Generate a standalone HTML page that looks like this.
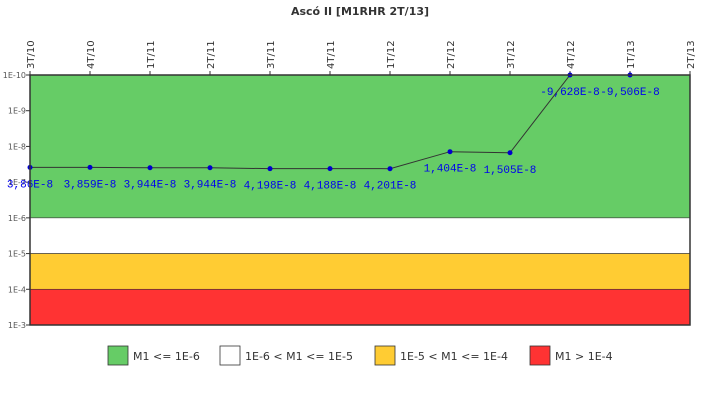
<!DOCTYPE html>
<html><head><meta charset="utf-8"><style>
body{margin:0;background:#fff;width:720px;height:400px;overflow:hidden}
svg text{font-family:"DejaVu Sans","Liberation Sans",sans-serif}
</style></head><body>
<svg width="720" height="400">
<text x="360" y="15" text-anchor="middle" font-size="11" font-weight="bold" fill="#333">Ascó II [M1RHR 2T/13]</text>
<g id="bands"></g><g id="yaxis"></g><g id="xaxis"></g><g id="series"></g>
<rect x="30" y="75" width="660" height="250" fill="none" stroke="#333" stroke-width="1.5"/>
<g id="legend"></g>
</svg>
<script>
const categories=["3T/10","4T/10","1T/11","2T/11","3T/11","4T/11","1T/12","2T/12","3T/12","4T/12","1T/13","2T/13"];
const values=[3.86e-8,3.859e-8,3.944e-8,3.944e-8,4.198e-8,4.188e-8,4.201e-8,1.404e-8,1.505e-8,-9.628e-8,-9.506e-8];
const labels=["3,86E-8","3,859E-8","3,944E-8","3,944E-8","4,198E-8","4,188E-8","4,201E-8","1,404E-8","1,505E-8","-9,628E-8","-9,506E-8"];
const yTicks=[-10,-9,-8,-7,-6,-5,-4,-3];
const bandLimits=[[-10,-6],[-6,-5],[-5,-4],[-4,-3]];
const bandColors=["#66cc66","#ffffff","#ffcc33","#ff3333"];
const legendLabels=["M1 <= 1E-6","1E-6 < M1 <= 1E-5","1E-5 < M1 <= 1E-4","M1 > 1E-4"];
const NS="http://www.w3.org/2000/svg";
const X0=30,X1=690,Y0=75,Y1=325;
function xs(i){return X0+i*(X1-X0)/(categories.length-1);}
function ys(e){return Y0+(e+10)*(Y1-Y0)/7;}
function yv(v){if(v<=1e-10)return Y0;return ys(Math.max(-10,Math.min(-3,Math.log10(v))));}
function mk(p,t,a){const e=document.createElementNS(NS,t);for(const k in a)e.setAttribute(k,a[k]);p.appendChild(e);return e;}
const bands=document.getElementById('bands');
bandLimits.forEach((b,i)=>{const r=mk(bands,'rect',{x:X0,y:ys(b[0]),width:X1-X0,height:ys(b[1])-ys(b[0]),fill:bandColors[i],stroke:'#333','stroke-width':0.6});

});
const ya=document.getElementById('yaxis');
yTicks.forEach(e=>{const y=ys(e);mk(ya,'line',{x1:X0-4,x2:X0,y1:y,y2:y,stroke:'#333'});
const t=mk(ya,'text',{x:X0-4,y:y+3,'text-anchor':'end','font-size':8,fill:'#555'});t.textContent='1E'+e;

});
const xa=document.getElementById('xaxis');
categories.forEach((c,i)=>{const x=xs(i);mk(xa,'line',{x1:x,x2:x,y1:Y0-4,y2:Y0,stroke:'#333'});
const t=mk(xa,'text',{x:0,y:0,transform:`translate(${x+4},${Y0-6}) rotate(-90)`,'font-size':10,fill:'#333'});t.textContent=c;

});
const s=document.getElementById('series');
const pts=values.map((v,i)=>[xs(i),yv(v)]);
const pl=mk(s,'polyline',{points:pts.map(p=>p.join(',')).join(' '),fill:'none',stroke:'#333','stroke-width':1});


pts.forEach((p,i)=>{const c=mk(s,'circle',{cx:p[0],cy:p[1],r:2.5,fill:'#0000cc'});


const t=mk(s,'text',{x:p[0],y:p[1]+20,'text-anchor':'middle','font-size':11,fill:'#0000ee','font-family':'Liberation Mono, monospace'});
t.style.fontFamily='"Liberation Mono",monospace';t.textContent=labels[i];

});
const lg=document.getElementById('legend');
const lx=[108,220,375,530];
legendLabels.forEach((l,i)=>{const g=mk(lg,'g',{});


mk(g,'rect',{x:lx[i],y:346,width:20,height:19,fill:bandColors[i],stroke:'#333','stroke-width':0.8});
const t=mk(g,'text',{x:lx[i]+25,y:360,'font-size':11,fill:'#333'});t.textContent=l;});
</script>
</body></html>
